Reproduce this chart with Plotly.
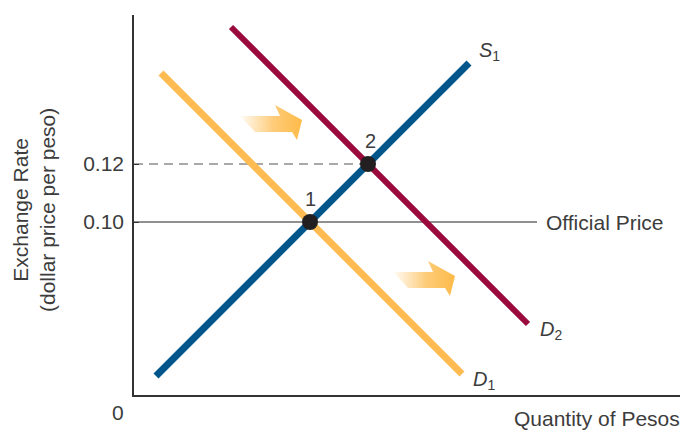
import plotly.graph_objects as go

# Diagram units: horizontal = quantity of pesos, vertical = exchange rate (schematic scale)
x_range = [0, 546]
y_range = [0, 380]

# Price levels shown on the vertical axis
price_ticks = [173, 231]
price_labels = ["0.10", "0.12"]

# Curves (endpoints in diagram units)
supply_s1_x = [22, 335]
supply_s1_y = [19, 332]
demand_d1_x = [27, 328]
demand_d1_y = [322, 21]
demand_d2_x = [97, 394]
demand_d2_y = [368, 71]

# Equilibria: 1 at the official price, 2 after demand rises
eq_x = [176, 234]
eq_y = [173, 231]
eq_labels = ["1", "2"]

official_price_end = 403

BLUE = "#00558b"
YELLOW = "#fdbb52"
CRIMSON = "#9a0a3c"
TEXT = "#3c3c3c"
FONT = "Liberation Sans"
FS = 21

fig = go.Figure()

# Official price line and dashed 0.12 guide
fig.add_trace(go.Scatter(x=[0, official_price_end], y=[price_ticks[0]] * 2, mode="lines",
                         line=dict(color="#222", width=1.2), hoverinfo="skip"))
fig.add_trace(go.Scatter(x=[0, eq_x[1]], y=[price_ticks[1]] * 2, mode="lines",
                         line=dict(color="#555", width=1.2, dash="9px,6px"), hoverinfo="skip"))

# Shift arrows (perspective block arrows with a fading tail)
arrow_template_x = [0, 40, 35, 62, 57, 52, 15, 0]
arrow_template_y = [0, 0, 11, -4, -24, -16, -16, 0]
arrow_anchors = [(106, 279), (259, 123)]
for ax, ay in arrow_anchors:
    fig.add_trace(go.Scatter(
        x=[ax + dx for dx in arrow_template_x],
        y=[ay + dy for dy in arrow_template_y],
        mode="lines", fill="toself", line=dict(width=0, color="rgba(0,0,0,0)"),
        fillgradient=dict(type="horizontal",
                          colorscale=[[0, "rgba(253,190,85,0.05)"],
                                      [0.55, "rgba(253,190,85,0.8)"],
                                      [1, "rgba(253,186,72,1)"]]),
        hoverinfo="skip"))

# Demand and supply curves
fig.add_trace(go.Scatter(x=demand_d1_x, y=demand_d1_y, mode="lines",
                         line=dict(color=YELLOW, width=7), hoverinfo="skip"))
fig.add_trace(go.Scatter(x=demand_d2_x, y=demand_d2_y, mode="lines",
                         line=dict(color=CRIMSON, width=6), hoverinfo="skip"))
fig.add_trace(go.Scatter(x=supply_s1_x, y=supply_s1_y, mode="lines",
                         line=dict(color=BLUE, width=7), hoverinfo="skip"))

# Equilibrium points
fig.add_trace(go.Scatter(x=eq_x, y=eq_y, mode="markers",
                         marker=dict(color="#231f20", size=16), hoverinfo="skip"))

annotations = []
for x, y, t in zip(eq_x, eq_y, eq_labels):
    annotations.append(dict(x=x + (0 if t == "1" else 2), y=y + 23, text=t, showarrow=False,
                            font=dict(family=FONT, size=FS - 1, color=TEXT)))

curve_labels = [
    (supply_s1_x[1] + 20, supply_s1_y[1] + 12, "<i>S</i><sub>1</sub>"),
    (demand_d2_x[1] + 23, demand_d2_y[1] - 6, "<i>D</i><sub>2</sub>"),
    (demand_d1_x[1] + 22, demand_d1_y[1] - 6, "<i>D</i><sub>1</sub>"),
]
for x, y, t in curve_labels:
    annotations.append(dict(x=x, y=y, text=t, showarrow=False,
                            font=dict(family=FONT, size=FS - 1, color=TEXT)))

annotations += [
    dict(x=official_price_end + 7, y=price_ticks[0], text="Official Price", showarrow=False,
         xanchor="left", font=dict(family=FONT, size=FS, color=TEXT)),
    dict(x=0.848, y=-0.062, xref="paper", yref="paper", xanchor="center", yanchor="middle",
         text="Quantity of Pesos", showarrow=False,
         font=dict(family=FONT, size=FS, color=TEXT)),
    dict(x=-0.029, y=-0.045, xref="paper", yref="paper", xanchor="center", yanchor="middle",
         text="0", showarrow=False, font=dict(family=FONT, size=FS, color=TEXT)),
    dict(x=-0.183, y=0.487, xref="paper", yref="paper", xanchor="center", yanchor="middle",
         text="Exchange Rate<br>(dollar price per peso)", showarrow=False,
         textangle=-90, font=dict(family=FONT, size=FS, color=TEXT)),
]

fig.update_layout(
    width=680, height=430,
    margin=dict(l=134, r=0, t=15, b=35),
    paper_bgcolor="white", plot_bgcolor="white",
    showlegend=False,
    annotations=annotations,
    xaxis=dict(range=x_range, showgrid=False, zeroline=False, showticklabels=False,
               showline=True, linecolor="#333", linewidth=1.5, ticks=""),
    yaxis=dict(range=y_range, showgrid=False, zeroline=False,
               tickvals=price_ticks, ticktext=price_labels,
               ticks="inside", ticklen=5, tickcolor="#333", ticklabelstandoff=4,
               tickfont=dict(family=FONT, size=FS, color=TEXT),
               showline=True, linecolor="#333", linewidth=1.5),
)

fig.write_html("out.html")
